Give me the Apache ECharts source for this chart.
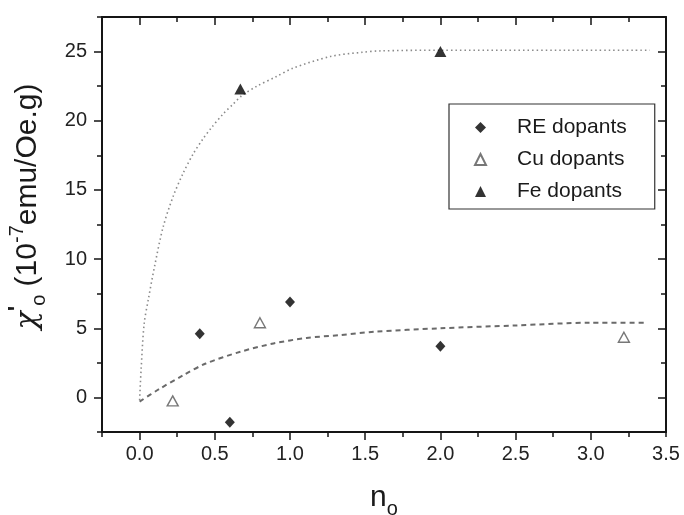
<!DOCTYPE html>
<html><head><meta charset="utf-8">
<script src="https://cdn.jsdelivr.net/npm/echarts@6/dist/echarts.min.js"></script>
<style>html,body{margin:0;padding:0;background:#fff}#c{width:684px;height:515px}</style>
</head><body><div id="c"></div>
<script>
// Data
const reX = [0.4, 0.6, 1.0, 2.0];
const reY = [4.6, -1.8, 6.9, 3.7];
const cuX = [0.22, 0.8, 3.22];
const cuY = [-0.25, 5.4, 4.35];
const feX = [0.67, 2.0];
const feY = [22.3, 25.0];
// Fe guide curve (dotted), read point by point
const feFitX = [0, 0.01, 0.03, 0.06, 0.1, 0.156, 0.222, 0.289, 0.356, 0.422, 0.478, 0.556, 0.622, 0.678, 0.78, 0.91, 1.02, 1.27, 1.48, 1.6, 2.0, 3.39];
const feFitY = [-0.2, 2.0, 5.3, 7.2, 9.5, 12.3, 14.5, 16.2, 17.6, 18.7, 19.5, 20.5, 21.2, 21.8, 22.5, 23.2, 23.8, 24.65, 24.95, 25.05, 25.1, 25.1];
// Cu guide curve (dashed), read point by point
const cuFitX = [0, 0.13, 0.29, 0.44, 0.67, 0.89, 1.11, 1.33, 1.56, 2.0, 2.5, 3.0, 3.37];
const cuFitY = [-0.3, 0.6, 1.6, 2.45, 3.3, 3.9, 4.3, 4.5, 4.75, 5.0, 5.2, 5.4, 5.4];
// Tick labels (major ticks)
const xTickLabels = ['0.0', '0.5', '1.0', '1.5', '2.0', '2.5', '3.0', '3.5'];
const yTickLabels = ['0', '5', '10', '15', '20', '25'];
const seriesNames = ['RE dopants', 'Cu dopants', 'Fe dopants'];

const zip = (a, b) => a.map((v, i) => [v, b[i]]);
const xMajor = xTickLabels.map(parseFloat);
const yMajor = yTickLabels.map(parseFloat);
const pickLabel = (labels) => (v) => {
  const f = labels.find(l => Math.abs(parseFloat(l) - v) < 1e-6);
  return f === undefined ? '' : f;
};
const FONT = 'Liberation Sans';
const axisColor = '#151515';
const richName = (size) => ({
  t: { fontSize: size, lineHeight: 42, verticalAlign: 'middle', fontFamily: FONT, color: '#1a1a1a' },
  c: { fontSize: size, lineHeight: 42, verticalAlign: 'middle', fontFamily: 'DejaVu Serif', fontStyle: 'italic', color: '#1a1a1a' },
  s: { fontSize: Math.round(size * 0.66), lineHeight: 19, verticalAlign: 'bottom', fontFamily: FONT, color: '#1a1a1a' },
  p: { fontSize: Math.round(size * 0.75), lineHeight: 22, verticalAlign: 'top', fontFamily: FONT, color: '#1a1a1a', fontWeight: 'bold' },
  sup: { fontSize: Math.round(size * 0.66), lineHeight: 23, verticalAlign: 'top', fontFamily: FONT, color: '#1a1a1a' }
});

// Scale ticks (counted from min) fall on the half-steps -> drawn as short ticks;
// minor ticks (split 2) fall on the labelled values -> drawn as long ticks.
const baseX = {
  type: 'value', min: -0.25, max: 3.5, interval: 0.5,
  splitLine: { show: false },
  axisLine: { show: true, onZero: false, lineStyle: { color: axisColor, width: 2 } },
  minorTick: { show: true, splitNumber: 2, length: 8, lineStyle: { color: axisColor, width: 1.5 } },
  minorSplitLine: { show: false }
};
const baseY = {
  type: 'value', min: -2.5, max: 27.5, interval: 5,
  splitLine: { show: false },
  axisLine: { show: true, onZero: false, lineStyle: { color: axisColor, width: 2 } },
  minorTick: { show: true, splitNumber: 2, length: 8, lineStyle: { color: axisColor, width: 1.5 } },
  minorSplitLine: { show: false }
};

const chart = echarts.init(document.getElementById('c'));
chart.setOption({
  animation: false,
  backgroundColor: '#fff',
  grid: { left: 102, right: 18, top: 17, bottom: 83, containLabel: false, outerBoundsMode: 'none' },
  xAxis: [
    Object.assign({}, baseX, {
      position: 'bottom',
      axisTick: { show: true, inside: false, length: 5, lineStyle: { color: axisColor, width: 1.5 } },
      axisLabel: { fontSize: 20, fontFamily: FONT, color: '#222', margin: 12, customValues: xMajor, formatter: pickLabel(xTickLabels) },
      name: '{t|n}{s|o}', nameLocation: 'middle', nameGap: 45,
      nameTextStyle: { rich: richName(30) }
    }),
    Object.assign({}, baseX, {
      position: 'top',
      axisTick: { show: true, inside: true, length: 5, lineStyle: { color: axisColor, width: 1.5 } },
      axisLabel: { show: false }
    })
  ],
  yAxis: [
    Object.assign({}, baseY, {
      position: 'left',
      axisTick: { show: true, inside: false, length: 5, lineStyle: { color: axisColor, width: 1.5 } },
      axisLabel: { fontSize: 20, fontFamily: FONT, color: '#222', margin: 15, customValues: yMajor, formatter: pickLabel(yTickLabels) },
      name: '{c|χ}{p|\'}{s|o}{t| (10}{sup|-7}{t|emu/Oe.g)}', nameLocation: 'middle', nameGap: 53,
      nameTextStyle: { rich: richName(30), padding: [0, 0, 0, 36] }
    }),
    Object.assign({}, baseY, {
      position: 'right',
      axisTick: { show: true, inside: true, length: 5, lineStyle: { color: axisColor, width: 1.5 } },
      axisLabel: { show: false }
    })
  ],
  legend: {
    data: seriesNames,
    orient: 'vertical',
    left: 449, top: 104,
    padding: [13, 28, 7, 25],
    itemWidth: 11, itemHeight: 11, itemGap: 11,
    borderColor: '#333', borderWidth: 1.2,
    formatter: (name) => '{g|}{t|' + name + '}',
    textStyle: {
      fontSize: 21, fontFamily: FONT, color: '#1a1a1a',
      rich: { g: { width: 26 }, t: { fontSize: 21, fontFamily: FONT, color: '#1a1a1a' } }
    }
  },
  series: [
    {
      type: 'line', name: 'Fe fit', data: zip(feFitX, feFitY), showSymbol: false, silent: true,
      smooth: 0.3,
      lineStyle: { color: '#8a8a8a', width: 1.6, type: [1.5, 3] }, z: 1
    },
    {
      type: 'line', name: 'Cu fit', data: zip(cuFitX, cuFitY), showSymbol: false, silent: true,
      smooth: 0.3,
      lineStyle: { color: '#6a6a6a', width: 2, type: [5, 4] }, z: 1
    },
    {
      type: 'scatter', name: seriesNames[0], data: zip(reX, reY),
      symbol: 'diamond', symbolSize: [10, 11],
      itemStyle: { color: '#000' }, z: 3
    },
    {
      type: 'scatter', name: seriesNames[1], data: zip(cuX, cuY),
      symbol: 'triangle', symbolSize: [11, 10],
      itemStyle: { color: '#fff', borderColor: '#555', borderWidth: 1.4 }, z: 3
    },
    {
      type: 'scatter', name: seriesNames[2], data: zip(feX, feY),
      symbol: 'triangle', symbolSize: [12, 11],
      itemStyle: { color: '#000' }, z: 3
    }
  ]
});
</script>
</body></html>
